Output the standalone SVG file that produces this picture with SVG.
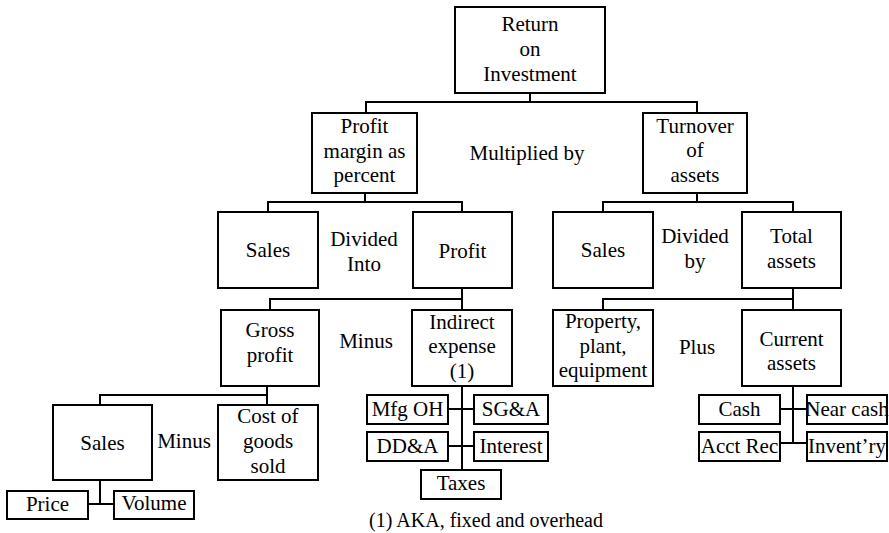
<svg xmlns="http://www.w3.org/2000/svg" width="889" height="533" viewBox="0 0 889 533" font-family="'Liberation Serif', 'Times New Roman', Times, 'DejaVu Serif', serif">
  <style>
    .box { fill: #ffffff; stroke: #000000; stroke-width: 2; }
    .wire { fill: none; stroke: #000000; stroke-width: 2; }
    text { font-family: 'Liberation Serif', 'Times New Roman', Times, 'DejaVu Serif', serif; font-size: 21px; fill: #000000; text-anchor: middle; }
    .note { font-size: 20px; }
  </style>

  <!-- connectors -->
  <g id="connectors" class="wire">
    <!-- ROI -> profit margin / turnover -->
    <path d="M530,93 V102 M366,113 V102 H697 V113"/>
    <!-- profit margin -> sales / profit -->
    <path d="M365,193 V202 M268,212 V202 H462 V212"/>
    <!-- turnover -> sales / total assets -->
    <path d="M697,193 V202 M603,212 V202 H793 V212"/>
    <!-- profit -> gross profit / indirect expense -->
    <path d="M462,288 V310 M270,310 V299 H462"/>
    <!-- total assets -> property / current assets -->
    <path d="M793,288 V310 M603,310 V299 H793"/>
    <!-- gross profit -> sales / cost of goods sold -->
    <path d="M267,386 V405 M100,405 V395 H267"/>
    <!-- sales -> price / volume -->
    <path d="M100,480 V504 M88,504 H114"/>
    <!-- indirect expense breakdown -->
    <path d="M462,386 V470 M448,409 H474 M448,446 H474"/>
    <!-- current assets breakdown -->
    <path d="M793,386 V443 M780,409 H807 M780,443 H807"/>
  </g>

  <g id="roi">
    <rect class="box" x="455" y="7" width="150" height="86"/>
    <text x="530" y="31">Return</text>
    <text x="530" y="56">on</text>
    <text x="530" y="81">Investment</text>
  </g>

  <g id="profit-margin">
    <rect class="box" x="312" y="113" width="105" height="80"/>
    <text x="364.5" y="133">Profit</text>
    <text x="364.5" y="158">margin as</text>
    <text x="364.5" y="182">percent</text>
  </g>

  <g id="label-multiplied">
    <text x="527" y="160">Multiplied by</text>
  </g>

  <g id="turnover">
    <rect class="box" x="643" y="113" width="104" height="80"/>
    <text x="695" y="133">Turnover</text>
    <text x="695" y="157">of</text>
    <text x="695" y="182">assets</text>
  </g>

  <g id="sales-1">
    <rect class="box" x="218" y="212" width="100" height="76"/>
    <text x="268" y="257">Sales</text>
  </g>

  <g id="label-divided-into">
    <text x="364" y="246">Divided</text>
    <text x="364" y="271">Into</text>
  </g>

  <g id="profit">
    <rect class="box" x="413" y="212" width="99" height="76"/>
    <text x="462.5" y="258">Profit</text>
  </g>

  <g id="sales-2">
    <rect class="box" x="553" y="212" width="100" height="76"/>
    <text x="603" y="257">Sales</text>
  </g>

  <g id="label-divided-by">
    <text x="695" y="243">Divided</text>
    <text x="695" y="268">by</text>
  </g>

  <g id="total-assets">
    <rect class="box" x="742" y="212" width="99" height="76"/>
    <text x="791.5" y="243">Total</text>
    <text x="791.5" y="268">assets</text>
  </g>

  <g id="gross-profit">
    <rect class="box" x="221" y="310" width="98" height="76"/>
    <text x="270" y="337">Gross</text>
    <text x="270" y="362">profit</text>
  </g>

  <g id="label-minus-1">
    <text x="366" y="348">Minus</text>
  </g>

  <g id="indirect-expense">
    <rect class="box" x="412" y="310" width="100" height="76"/>
    <text x="462" y="329">Indirect</text>
    <text x="462" y="353">expense</text>
    <text x="462" y="378">(1)</text>
  </g>

  <g id="property">
    <rect class="box" x="553" y="310" width="100" height="76"/>
    <text x="603" y="328">Property,</text>
    <text x="603" y="353">plant,</text>
    <text x="603" y="377">equipment</text>
  </g>

  <g id="label-plus">
    <text x="697" y="354">Plus</text>
  </g>

  <g id="current-assets">
    <rect class="box" x="742" y="310" width="99" height="76"/>
    <text x="791.5" y="346">Current</text>
    <text x="791.5" y="370">assets</text>
  </g>

  <g id="sales-3">
    <rect class="box" x="53" y="405" width="99" height="75"/>
    <text x="102.5" y="450">Sales</text>
  </g>

  <g id="label-minus-2">
    <text x="184" y="448">Minus</text>
  </g>

  <g id="cogs">
    <rect class="box" x="218" y="405" width="100" height="75"/>
    <text x="268" y="423">Cost of</text>
    <text x="268" y="448">goods</text>
    <text x="268" y="473">sold</text>
  </g>

  <g id="price">
    <rect class="box" x="7" y="491" width="81" height="28"/>
    <text x="47.5" y="511">Price</text>
  </g>

  <g id="volume">
    <rect class="box" x="114" y="491" width="80" height="28"/>
    <text x="154" y="510">Volume</text>
  </g>

  <g id="mfg-oh">
    <rect class="box" x="367" y="395" width="81" height="29"/>
    <text x="407.5" y="416">Mfg OH</text>
  </g>

  <g id="sga">
    <rect class="box" x="474" y="395" width="74" height="29"/>
    <text x="511" y="416">SG&amp;A</text>
  </g>

  <g id="dda">
    <rect class="box" x="367" y="432" width="81" height="29"/>
    <text x="407.5" y="453">DD&amp;A</text>
  </g>

  <g id="interest">
    <rect class="box" x="474" y="432" width="74" height="29"/>
    <text x="511" y="453">Interest</text>
  </g>

  <g id="taxes">
    <rect class="box" x="421" y="470" width="80" height="29"/>
    <text x="461" y="490">Taxes</text>
  </g>

  <g id="cash">
    <rect class="box" x="699" y="395" width="81" height="29"/>
    <text x="739.5" y="416">Cash</text>
  </g>

  <g id="near-cash">
    <rect class="box" x="807" y="395" width="80" height="29"/>
    <text x="847" y="416">Near cash</text>
  </g>

  <g id="acct-rec">
    <rect class="box" x="699" y="432" width="81" height="29"/>
    <text x="739.5" y="453">Acct Rec</text>
  </g>

  <g id="inventory">
    <rect class="box" x="807" y="432" width="80" height="29"/>
    <text x="847" y="453">Invent’ry</text>
  </g>

  <g id="footnote">
    <text class="note" x="486" y="527">(1) AKA, fixed and overhead</text>
  </g>
</svg>
